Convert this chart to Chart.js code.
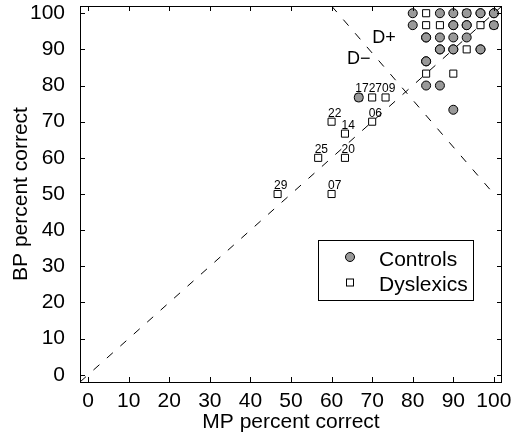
<!DOCTYPE html>
<html><head><meta charset="utf-8">
<script src="https://cdn.jsdelivr.net/npm/chart.js@4.4.0/dist/chart.umd.min.js"></script>
<style>html,body{margin:0;padding:0;background:#fff;}canvas{display:block;}</style>
</head><body>
<canvas id="c" width="514" height="435"></canvas>
<script>
// ---- data ----
const xTicks = [0, 10, 20, 30, 40, 50, 60, 70, 80, 90, 100];
const yTicks = [0, 10, 20, 30, 40, 50, 60, 70, 80, 90, 100];

// Controls (MP %, BP %); repeated entries = several subjects on the same score
const controlsMP = [80, 86.7, 90, 93.3, 96.7, 96.7, 100, 100,
                    80, 90, 90, 93.3, 93.3, 100,
                    83.3, 83.3, 86.7, 90, 93.3,
                    86.7, 86.7, 90, 90, 96.7, 96.7,
                    83.3, 83.3, 83.3, 86.7, 90, 66.7];
const controlsBP = [100, 100, 100, 100, 100, 100, 100, 100,
                    96.7, 96.7, 96.7, 96.7, 96.7, 96.7,
                    93.3, 93.3, 93.3, 93.3, 93.3,
                    90, 90, 90, 90, 90, 90,
                    86.7, 86.7, 80, 80, 73.3, 76.7];

// Dyslexics (MP %, BP %) with subject labels for the low scorers
const dyslexicsMP = [83.3, 93.3, 83.3, 86.7, 96.7, 100, 93.3, 83.3, 90,
                     66.7, 70, 73.3, 70, 60, 63.3, 56.7, 63.3, 46.7, 60];
const dyslexicsBP = [100, 100, 96.7, 96.7, 96.7, 96.7, 90, 83.3, 83.3,
                     76.7, 76.7, 76.7, 70, 70, 66.7, 60, 60, 50, 50];
const dyslexicsLabel = ['', '', '', '', '', '', '', '', '',
                        '17', '27', '09', '06', '22', '14', '25', '20', '29', '07'];

// reference lines
const diagonalMP = [-2, 102];
const diagonalBP = [-2, 102];
const boundaryMP = [60, 100];
const boundaryBP = [102, 50];

// region annotations
const regionText = ['D+', 'D\u2212'];
const regionMP = [70, 63.8];
const regionBP = [91.75, 86];

const legendLabels = ['Controls', 'Dyslexics'];

// ---- chart ----
const FONT = '"Liberation Sans", Arial, Helvetica, sans-serif';
Chart.defaults.font.family = FONT;
Chart.defaults.color = '#000';

const pts = (xs, ys) => xs.map((v, i) => ({x: v, y: ys[i]}));

const overlay = {
  id: 'overlay',
  afterDatasetsDraw(chart) {
    const {ctx, chartArea: a, scales: {x, y}} = chart;
    ctx.save();
    ctx.fillStyle = '#000';
    ctx.textAlign = 'left';
    ctx.textBaseline = 'alphabetic';
    // point labels
    ctx.font = '12px ' + FONT;
    dyslexicsLabel.forEach((t, i) => {
      if (!t) return;
      const px = x.getPixelForValue(dyslexicsMP[i]);
      const py = y.getPixelForValue(dyslexicsBP[i]);
      ctx.fillText(t, px - 3.5, py - 5);
    });
    // region text
    ctx.font = '18px ' + FONT;
    regionText.forEach((t, i) => {
      ctx.fillText(t, x.getPixelForValue(regionMP[i]), y.getPixelForValue(regionBP[i]));
    });
    // frame
    ctx.strokeStyle = '#000';
    ctx.lineWidth = 1;
    ctx.strokeRect(a.left + 0.5, a.top + 0.5, a.right - a.left - 1, a.bottom - a.top);
    // inward ticks
    const tl = 5;
    ctx.beginPath();
    xTicks.forEach(v => {
      const px = Math.round(x.getPixelForValue(v)) + 0.5;
      ctx.moveTo(px, a.bottom); ctx.lineTo(px, a.bottom - tl);
      ctx.moveTo(px, a.top); ctx.lineTo(px, a.top + tl);
    });
    yTicks.forEach(v => {
      const py = Math.round(y.getPixelForValue(v)) + 0.5;
      ctx.moveTo(a.left, py); ctx.lineTo(a.left + tl, py);
      ctx.moveTo(a.right, py); ctx.lineTo(a.right - tl, py);
    });
    ctx.stroke();
    // legend
    const bx = a.left + 238.5, by = a.top + 234.5, bw = 155, bh = 60;
    ctx.fillStyle = '#fff';
    ctx.fillRect(bx, by, bw, bh);
    ctx.strokeRect(bx, by, bw, bh);
    const mx = bx + 31.5;
    ctx.beginPath();
    ctx.arc(mx, by + 16.5, 4.5, 0, Math.PI * 2);
    ctx.fillStyle = '#999';
    ctx.fill();
    ctx.stroke();
    ctx.fillStyle = '#fff';
    ctx.fillRect(mx - 3.5, by + 38.5, 7, 7);
    ctx.strokeRect(mx - 3.5, by + 38.5, 7, 7);
    ctx.fillStyle = '#000';
    ctx.font = '21px ' + FONT;
    ctx.fillText(legendLabels[0], bx + 60.5, by + 25);
    ctx.fillText(legendLabels[1], bx + 60.5, by + 50.5);
    ctx.restore();
  }
};

new Chart(document.getElementById('c'), {
  type: 'scatter',
  data: {
    datasets: [
      {label: 'diag', type: 'line', data: pts(diagonalMP, diagonalBP), borderColor: '#000',
       borderWidth: 1, borderDash: [8, 10], pointRadius: 0, fill: false, order: 0},
      {label: 'boundary', type: 'line', data: pts(boundaryMP, boundaryBP), borderColor: '#000',
       borderWidth: 1, borderDash: [8, 10], pointRadius: 0, fill: false, order: 0},
      {label: legendLabels[0], data: pts(controlsMP, controlsBP), pointStyle: 'circle',
       pointRadius: 4.5, backgroundColor: '#999', borderColor: '#000', borderWidth: 1, order: 1},
      {label: legendLabels[1], data: pts(dyslexicsMP, dyslexicsBP), pointStyle: 'rect',
       pointRadius: 5, backgroundColor: '#fff', borderColor: '#000', borderWidth: 1, order: 2}
    ]
  },
  options: {
    responsive: false,
    animation: false,
    devicePixelRatio: 1,
    layout: {padding: {left: 0, top: 6, right: 12, bottom: 0}},
    plugins: {legend: {display: false}, tooltip: {enabled: false}},
    scales: {
      x: {
        type: 'linear', position: 'bottom', min: -2, max: 102,
        afterBuildTicks: s => { s.ticks = xTicks.map(v => ({value: v})); },
        afterFit: s => { s.height = 53; s.paddingLeft = 0; s.paddingRight = 0; },
        ticks: {font: {size: 21}, color: '#000', padding: -1, maxRotation: 0, autoSkip: false},
        grid: {display: false},
        border: {display: false},
        title: {display: true, text: 'MP percent correct', font: {size: 21}, color: '#000',
                padding: {top: 0, bottom: 0}}
      },
      y: {
        type: 'linear', position: 'left', min: -2, max: 102,
        afterBuildTicks: s => { s.ticks = yTicks.map(v => ({value: v})); },
        afterFit: s => { s.width = 80; s.paddingTop = 0; s.paddingBottom = 0; },
        ticks: {font: {size: 21}, color: '#000', padding: 7, autoSkip: false},
        grid: {display: false},
        border: {display: false},
        title: {display: true, text: 'BP percent correct', font: {size: 21}, color: '#000',
                padding: {top: 9, bottom: 0}}
      }
    }
  },
  plugins: [overlay]
});
</script>
</body></html>
